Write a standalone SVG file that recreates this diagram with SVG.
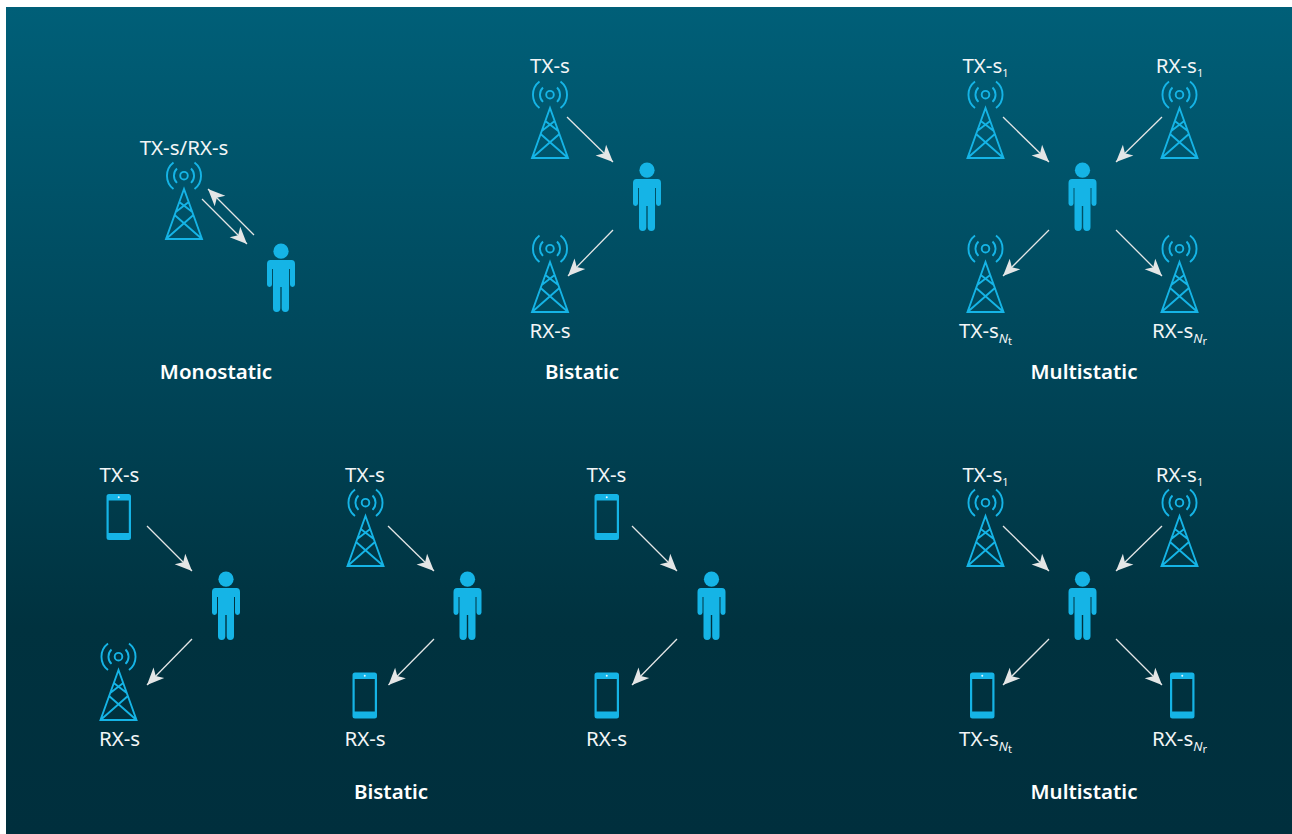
<svg xmlns="http://www.w3.org/2000/svg" width="1292" height="834" viewBox="0 0 1292 834">
<style>
.t{font-family:"Noto Sans","Liberation Sans",sans-serif;font-size:20.500px;fill:#f2f5f6;text-anchor:middle}
.h{font-family:"Noto Sans","Liberation Sans",sans-serif;font-size:20.500px;font-weight:600;fill:#fff;text-anchor:middle}
.sub{font-size:11px}
.it{font-size:13px;font-style:italic}
.tw{fill:none;stroke:#15b4e6;stroke-width:1.9}
.c line{stroke:#e4e6e6;stroke-width:1.3;marker-end:url(#a)}
</style>
<defs>
<linearGradient id="bg" x1="0" y1="0" x2="0" y2="1">
<stop offset="0" stop-color="#005f78"/><stop offset=".45" stop-color="#004558"/><stop offset=".75" stop-color="#00323f"/><stop offset="1" stop-color="#002f3d"/>
</linearGradient>
<marker id="a" markerUnits="userSpaceOnUse" markerWidth="20" markerHeight="20" viewBox="-18 -10 20 20" refX="0" refY="0" orient="auto">
<path d="M0 0L-17 -7.500L-12.500 0L-17 7.500Z" fill="#e4e6e6"/>
</marker>
<g id="tower" class="tw">
<path d="M-18 0H18L0 -50ZM-18 0L9.400 -24M18 0L-9.400 -24M-8.300 -27L4.700 -37M8.300 -27L-4.700 -37"/>
<circle cx="0" cy="-63.300" r="3.800"/>
<path d="M-7 -70.500a10 10 0 0 0 0 14.400M7 -70.500a10 10 0 0 1 0 14.400M-10.500 -76.600a16.800 16.800 0 0 0 0 26.600M10.500 -76.600a16.800 16.800 0 0 1 0 26.600"/>
</g>
<g id="person" fill="#15b4e6">
<circle cx="0" cy="-7.800" r="7.600"/>
<path d="M-10.500 1H10.500Q14 1 14 5V25.500A2.500 2.500 0 0 1 9 25.500V10H8V49.300A3.600 3.600 0 0 1 .7 49.300V28H-.7V49.300A3.600 3.600 0 0 1 -8 49.300V10H-9V25.500A2.500 2.500 0 0 1 -14 25.500V5Q-14 1 -10.500 1Z"/>
</g>
<g id="phone">
<path fill="#15b4e6" fill-rule="evenodd" d="M2.500 0H22A2.500 2.500 0 0 1 24.500 2.500V43.500A2.500 2.500 0 0 1 22 46H2.500A2.500 2.500 0 0 1 0 43.500V2.500A2.500 2.500 0 0 1 2.500 0ZM2.200 6.500V39H22.300V6.500Z"/>
<circle cx="12.250" cy="3.300" r="1" fill="#e8f7fc"/>
</g>
</defs>
<rect x="6" y="7" width="1286" height="827" fill="url(#bg)"/>
<g id="tower-mono"><use href="#tower" x="184" y="239"/></g>
<g id="person-mono"><use href="#person" x="281" y="259"/></g>
<g id="tower-bi-tx"><use href="#tower" x="550" y="158"/></g>
<g id="tower-bi-rx"><use href="#tower" x="550" y="312"/></g>
<g id="person-bi"><use href="#person" x="647" y="178"/></g>
<g id="tower-m1-tx1"><use href="#tower" x="985.500" y="158"/></g>
<g id="tower-m1-rx1"><use href="#tower" x="1179.500" y="158"/></g>
<g id="tower-m1-txn"><use href="#tower" x="985.500" y="312"/></g>
<g id="tower-m1-rxn"><use href="#tower" x="1179.500" y="312"/></g>
<g id="person-m1"><use href="#person" x="1082.500" y="178"/></g>
<g id="phone-b1-tx"><use href="#phone" x="106.500" y="494"/></g>
<g id="tower-b1-rx"><use href="#tower" x="118.500" y="720"/></g>
<g id="person-b1"><use href="#person" x="226" y="587"/></g>
<g id="tower-b2-tx"><use href="#tower" x="365.500" y="566"/></g>
<g id="phone-b2-rx"><use href="#phone" x="352.500" y="672.500"/></g>
<g id="person-b2"><use href="#person" x="467.500" y="587"/></g>
<g id="phone-b3-tx"><use href="#phone" x="594.500" y="494"/></g>
<g id="phone-b3-rx"><use href="#phone" x="594.500" y="672.500"/></g>
<g id="person-b3"><use href="#person" x="711.500" y="587"/></g>
<g id="tower-m2-tx1"><use href="#tower" x="985.500" y="566"/></g>
<g id="tower-m2-rx1"><use href="#tower" x="1179.500" y="566"/></g>
<g id="phone-m2-txn"><use href="#phone" x="970" y="672.500"/></g>
<g id="phone-m2-rxn"><use href="#phone" x="1170" y="672.500"/></g>
<g id="person-m2"><use href="#person" x="1082.500" y="587"/></g>
<g id="connectors" class="c">
<line x1="202" y1="199" x2="247" y2="244"/><line x1="254" y1="235" x2="208" y2="189"/>
<line x1="567" y1="117" x2="613" y2="162"/><line x1="613" y1="230" x2="568" y2="276"/>
<line x1="1003" y1="117" x2="1049" y2="162"/><line x1="1162" y1="117" x2="1116" y2="162"/>
<line x1="1049" y1="230" x2="1003" y2="276"/><line x1="1116" y1="230" x2="1162" y2="276"/>
<line x1="147" y1="526" x2="192" y2="571"/><line x1="192" y1="639" x2="147" y2="685"/>
<line x1="388" y1="526" x2="434" y2="571"/><line x1="434" y1="639" x2="388.500" y2="685"/>
<line x1="632" y1="526" x2="677" y2="571"/><line x1="677" y1="639" x2="632" y2="685"/>
<line x1="1003" y1="526" x2="1049" y2="571"/><line x1="1162" y1="526" x2="1116" y2="571"/>
<line x1="1049" y1="639" x2="1003" y2="685"/><line x1="1116" y1="639" x2="1162" y2="685"/>
</g>
<g id="labels">
<text class="t" x="184" y="155">TX-s/RX-s</text>
<text class="t" x="550" y="73">TX-s</text>
<text class="t" x="550" y="337.500">RX-s</text>
<text class="t" x="985.500" y="73">TX-s<tspan class="sub" dy="4">1</tspan></text>
<text class="t" x="1179.500" y="73">RX-s<tspan class="sub" dy="4">1</tspan></text>
<text class="t" x="985.500" y="337.500">TX-s<tspan class="it" dy="5">N</tspan><tspan class="sub" dy="2">t</tspan></text>
<text class="t" x="1179.500" y="337.500">RX-s<tspan class="it" dy="5">N</tspan><tspan class="sub" dy="2">r</tspan></text>
<text class="t" x="119.500" y="482">TX-s</text>
<text class="t" x="119.500" y="745.500">RX-s</text>
<text class="t" x="365" y="482">TX-s</text>
<text class="t" x="365" y="745.500">RX-s</text>
<text class="t" x="606.500" y="482">TX-s</text>
<text class="t" x="606.500" y="745.500">RX-s</text>
<text class="t" x="985.500" y="482">TX-s<tspan class="sub" dy="4">1</tspan></text>
<text class="t" x="1179.500" y="482">RX-s<tspan class="sub" dy="4">1</tspan></text>
<text class="t" x="985.500" y="745.500">TX-s<tspan class="it" dy="5">N</tspan><tspan class="sub" dy="2">t</tspan></text>
<text class="t" x="1179.500" y="745.500">RX-s<tspan class="it" dy="5">N</tspan><tspan class="sub" dy="2">r</tspan></text>
<text class="h" x="216" y="379">Monostatic</text>
<text class="h" x="582" y="379">Bistatic</text>
<text class="h" x="1084" y="379">Multistatic</text>
<text class="h" x="391" y="799">Bistatic</text>
<text class="h" x="1084" y="799">Multistatic</text>
</g>
</svg>
